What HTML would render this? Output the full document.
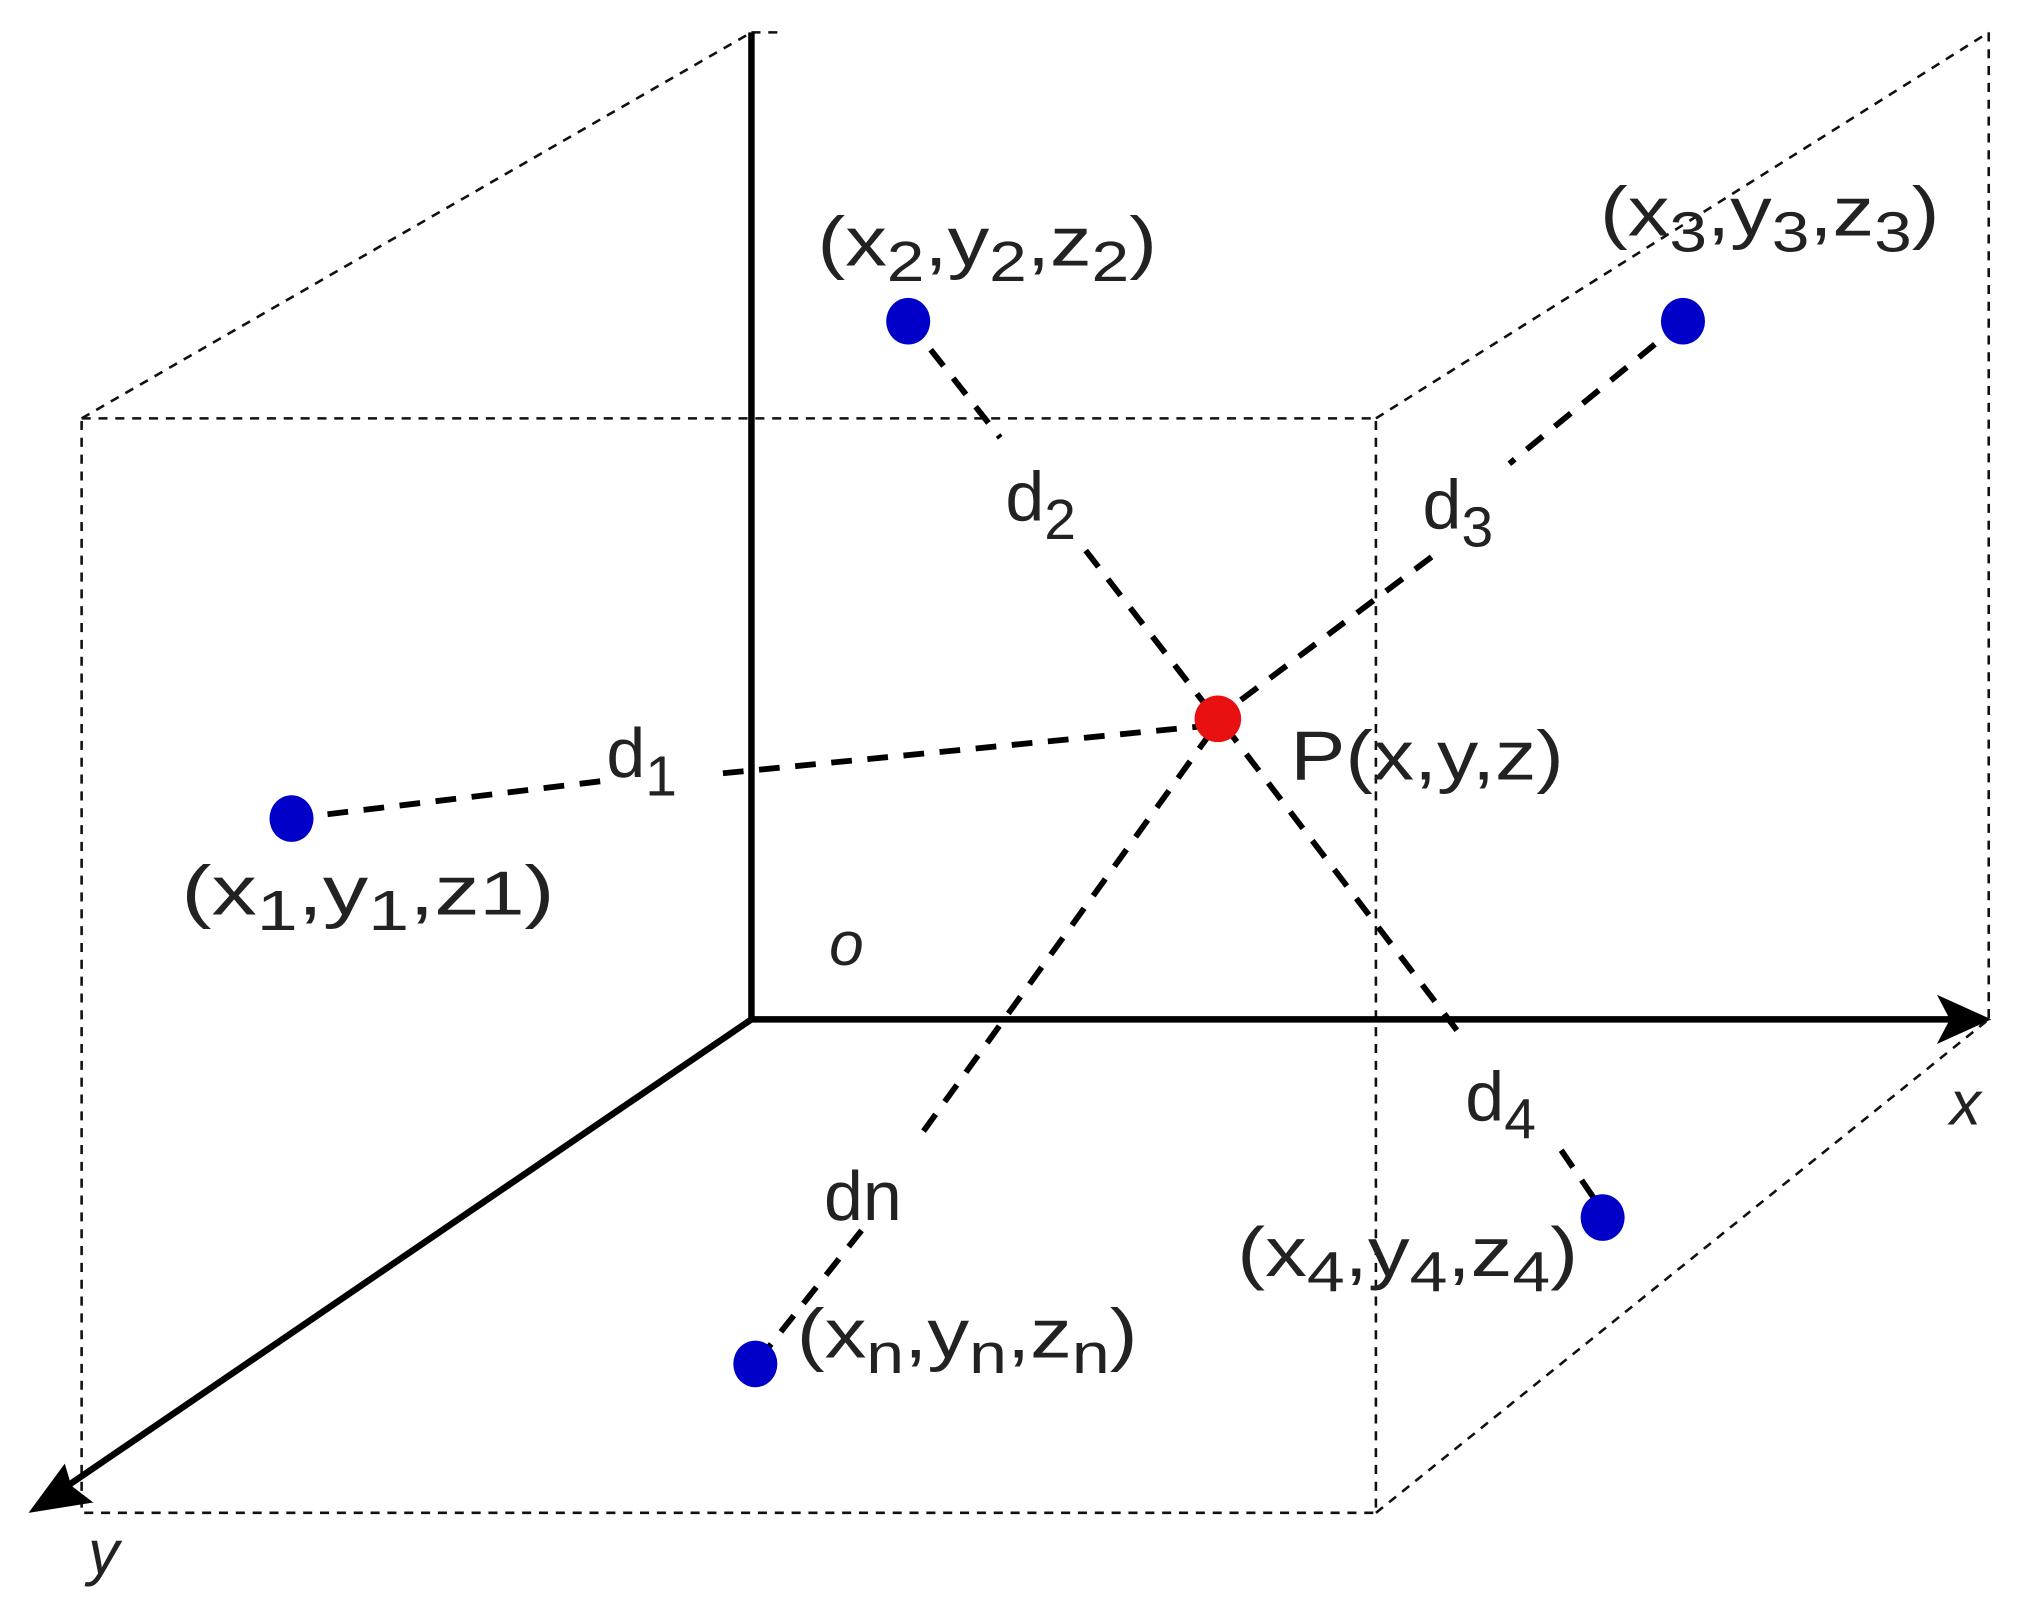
<!DOCTYPE html>
<html><head><meta charset="utf-8"><style>
html,body{margin:0;padding:0;background:#fff;}
svg{display:block;}
text{font-family:"Liberation Sans",sans-serif;fill:#222;}
</style></head><body>
<svg width="2025" height="1610" viewBox="0 0 1563 1243" preserveAspectRatio="none" xmlns="http://www.w3.org/2000/svg">
<!-- dashed box -->
<g stroke="#111" stroke-width="2" stroke-dasharray="7,6" fill="none">
<rect x="63" y="323" width="999" height="845"/>
<line x1="63" y1="323" x2="580" y2="25"/>
<line x1="1062" y1="323" x2="1535" y2="25"/>
<line x1="1535" y1="25" x2="1535" y2="787"/>
<line x1="1062" y1="1168" x2="1535" y2="787"/>
<line x1="580" y1="25" x2="606" y2="25"/>
</g>
<!-- axes -->
<g stroke="#000" stroke-width="5" fill="none">
<line x1="580" y1="25" x2="580" y2="787"/>
<line x1="580" y1="787" x2="1510" y2="787"/>
<line x1="580" y1="787" x2="45" y2="1152"/>
</g>
<polygon points="1537,787 1495,768 1505,787 1495,806" fill="#000"/>
<polygon points="22,1168 50,1130 55,1147 72,1160" fill="#000"/>
<!-- distance lines -->
<g stroke="#000" stroke-width="4.5" stroke-dasharray="16,12" fill="none">
<line x1="225" y1="632" x2="465" y2="603"/>
<line x1="558" y1="597" x2="935" y2="560"/>
<line x1="701" y1="248" x2="772" y2="338"/>
<line x1="838" y1="425" x2="935" y2="550"/>
<line x1="1299" y1="248" x2="1165" y2="358"/>
<line x1="1105" y1="430" x2="945" y2="550"/>
<line x1="945" y1="560" x2="1128" y2="800"/>
<line x1="1205" y1="888" x2="1237" y2="935"/>
<line x1="935" y1="565" x2="708" y2="880"/>
<line x1="665" y1="950" x2="583" y2="1053"/>
</g>
<!-- points -->
<g fill="#0000c8">
<ellipse cx="225" cy="632" rx="17" ry="18"/>
<ellipse cx="701" cy="248" rx="17" ry="18"/>
<ellipse cx="1299" cy="248" rx="17" ry="18"/>
<ellipse cx="1237" cy="940" rx="17" ry="18"/>
<ellipse cx="583" cy="1053" rx="17" ry="18"/>
</g>
<ellipse cx="940" cy="555" rx="18" ry="18" fill="#e81010"/>
<!-- labels -->
<g font-size="54">
<text x="631" y="205" textLength="262" lengthAdjust="spacingAndGlyphs">(x<tspan font-size="44" dy="12">2</tspan><tspan dy="-12">,y</tspan><tspan font-size="44" dy="12">2</tspan><tspan dy="-12">,z</tspan><tspan font-size="44" dy="12">2</tspan><tspan dy="-12">)</tspan></text>
<text x="1235" y="182" textLength="262" lengthAdjust="spacingAndGlyphs">(x<tspan font-size="44" dy="12">3</tspan><tspan dy="-12">,y</tspan><tspan font-size="44" dy="12">3</tspan><tspan dy="-12">,z</tspan><tspan font-size="44" dy="12">3</tspan><tspan dy="-12">)</tspan></text>
<text x="140" y="706" textLength="288" lengthAdjust="spacingAndGlyphs">(x<tspan font-size="44" dy="12">1</tspan><tspan dy="-12">,y</tspan><tspan font-size="44" dy="12">1</tspan><tspan dy="-12">,z</tspan><tspan font-size="48">1</tspan>)</text>
<text x="996" y="602" textLength="211" lengthAdjust="spacingAndGlyphs">P(x,y,z)</text>
<text x="955" y="985" textLength="263" lengthAdjust="spacingAndGlyphs">(x<tspan font-size="44" dy="12">4</tspan><tspan dy="-12">,y</tspan><tspan font-size="44" dy="12">4</tspan><tspan dy="-12">,z</tspan><tspan font-size="44" dy="12">4</tspan><tspan dy="-12">)</tspan></text>
<text x="615" y="1048" textLength="263" lengthAdjust="spacingAndGlyphs">(x<tspan font-size="44" dy="12">n</tspan><tspan dy="-12">,y</tspan><tspan font-size="44" dy="12">n</tspan><tspan dy="-12">,z</tspan><tspan font-size="44" dy="12">n</tspan><tspan dy="-12">)</tspan></text>
<text x="468" y="600">d<tspan font-size="44" dy="14">1</tspan></text>
<text x="776" y="402">d<tspan font-size="44" dy="14">2</tspan></text>
<text x="1098" y="408">d<tspan font-size="44" dy="14">3</tspan></text>
<text x="1131" y="865">d<tspan font-size="44" dy="14">4</tspan></text>
<text x="636" y="942">dn</text>
<text x="640" y="745" font-style="italic" font-size="48">o</text>
<text x="1505" y="868" font-style="italic" font-size="48">x</text>
<text x="68" y="1215" font-style="italic" font-size="48">y</text>
</g>
</svg>
</body></html>
